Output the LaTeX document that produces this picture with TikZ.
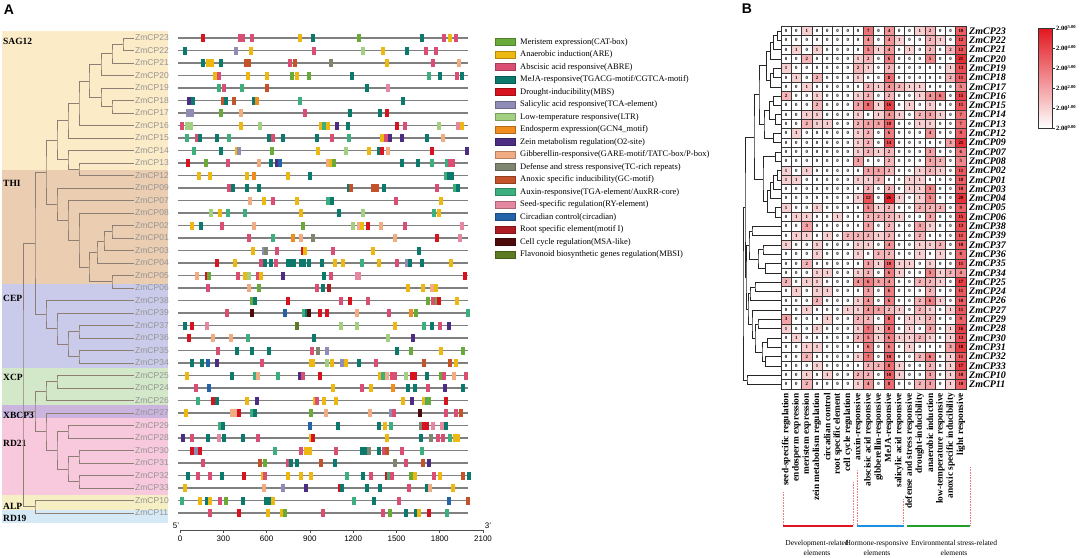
\documentclass[tikz,border=0pt]{standalone}
\usepackage{fontspec}
\setmainfont{Liberation Serif}
\setsansfont{Liberation Sans}
\usetikzlibrary{calc}

% motif colours
\definecolor{cat}{HTML}{6AAA3A}
\definecolor{are}{HTML}{EDB812}
\definecolor{abre}{HTML}{D94E72}
\definecolor{meja}{HTML}{0B7A6C}
\definecolor{mbs}{HTML}{D6131E}
\definecolor{tca}{HTML}{8F8DB5}
\definecolor{ltr}{HTML}{A3D080}
\definecolor{gcn}{HTML}{EF8E1F}
\definecolor{otwo}{HTML}{4B2E83}
\definecolor{gare}{HTML}{F2AC83}
\definecolor{tcr}{HTML}{7F8670}
\definecolor{gc}{HTML}{C4532B}
\definecolor{tga}{HTML}{3DAF7F}
\definecolor{ry}{HTML}{E487A0}
\definecolor{circ}{HTML}{2463A8}
\definecolor{moti}{HTML}{AE1C23}
\definecolor{msa}{HTML}{4E0B0B}
\definecolor{mbsi}{HTML}{5C7B22}
% bands, tree, heatmap
\definecolor{bSAG}{HTML}{FCEBC7}
\definecolor{bTHI}{HTML}{EBCDB2}
\definecolor{bCEP}{HTML}{CACBEA}
\definecolor{bXCP}{HTML}{D2E8C8}
\definecolor{bXBC}{HTML}{CBB5DE}
\definecolor{bRD}{HTML}{F8C8DD}
\definecolor{bALP}{HTML}{F6EFC3}
\definecolor{bRDn}{HTML}{D5E9F6}
\definecolor{treeA}{HTML}{8E7F74}
\definecolor{hot}{HTML}{E3161E}
\definecolor{barR}{HTML}{E0141E}
\definecolor{barB}{HTML}{1E8FE0}
\definecolor{barG}{HTML}{1FA02A}

\newcommand\genes{23,22,21,20,19,18,17,16,15,14,13,12,09,07,08,02,01,03,04,05,06,38,39,37,36,35,34,25,24,26,27,29,28,30,31,32,33,10,11}

% clade: name, x, child, child
\newcommand\clade[4]{%
  \path let \p1=($(#3)!.5!(#4)$) in coordinate (#1) at (#2pt,\y1);
  \draw[tree] (#3) -| (#1) |- (#4);
}

\begin{document}
\begin{tikzpicture}[x=1pt, y=-1pt, every node/.style={inner sep=1pt},
  glab/.style={anchor=west, font=\sffamily\fontsize{8.5}{9}\selectfont, text=black!42},
  band/.style={anchor=west, font=\bfseries\fontsize{9.5}{10}\selectfont},
  tree/.style={draw=treeA, line width=.8pt},
  track/.style={draw=black!50, line width=1.1pt},
  leg/.style={anchor=west, font=\fontsize{8.5}{9}\selectfont},
  cell/.style={draw=black!80, line width=.6pt, minimum width=10.28pt, minimum height=9.3pt, inner sep=0pt, font=\bfseries\fontsize{4.8}{5}\selectfont},
  hlab/.style={anchor=west, font=\bfseries\itshape\fontsize{10}{10}\selectfont},
  clab/.style={rotate=90, anchor=east, font=\bfseries\fontsize{9.3}{10}\selectfont},
  grp/.style={align=center, font=\fontsize{7.5}{10.5}\selectfont}]
\useasboundingbox (0,0) rectangle (1084,557);

%% panel A
\node[font=\sffamily\bfseries\fontsize{14}{14}\selectfont] (pA) at (9,10) {A};

\fill[bSAG] (2,31) rectangle (168,170);
\fill[bTHI] (2,170) rectangle (168,284);
\fill[bCEP] (2,284) rectangle (168,368);
\fill[bXCP] (2,368) rectangle (168,405);
\fill[bXBC] (2,405) rectangle (168,418);
\fill[bRD] (2,418) rectangle (168,495);
\fill[bALP] (2,495) rectangle (168,510);
\fill[bRDn] (2,510) rectangle (168,523);

\node[band] (sag) at (2,41) {SAG12};
\node[band] (thi) at (2,183) {THI};
\node[band] (cep) at (2,298) {CEP};
\node[band] (xcp) at (2,377) {XCP};
\node[band] (xbc) at (2,415) {XBCP3};
\node[band] (rdt) at (2,443) {RD21};
\node[band] (alp) at (2,506) {ALP};
\node[band] (rdn) at (2,518) {RD19};

\foreach \gid [count=\row from 0] in \genes
  \node[glab] (a\gid) at (134,{38+12.5*\row}) {ZmCP\gid};

% tree
\clade{n2322}{123}{a23.west}{a22.west}
\clade{n21}{112}{n2322}{a21.west}
\clade{n20}{101}{n21}{a20.west}
\clade{n1817}{112}{a18.west}{a17.west}
\clade{n19}{101}{a19.west}{n1817}
\clade{n1920}{89}{n20}{n19}
\clade{n16}{79}{n1920}{a16.west}
\clade{n15}{68}{n16}{a15.west}
\clade{n1312}{79}{a13.west}{a12.west}
\clade{n14}{68}{a14.west}{n1312}
\clade{nsag}{57}{n15}{n14}
\clade{n0201}{112}{a02.west}{a01.west}
\clade{n03}{104}{n0201}{a03.west}
\clade{n04}{97}{n03}{a04.west}
\clade{n0506}{112}{a05.west}{a06.west}
\clade{n0406}{89}{n04}{n0506}
\clade{n08}{79}{a08.west}{n0406}
\clade{n07}{68}{a07.west}{n08}
\clade{n09}{57}{a09.west}{n07}
\clade{nst}{46}{nsag}{n09}
\clade{n3736}{79}{a37.west}{a36.west}
\clade{n3534}{79}{a35.west}{a34.west}
\clade{n3734}{68}{n3736}{n3534}
\clade{n39}{57}{a39.west}{n3734}
\clade{n38}{46}{a38.west}{n39}
\clade{nup}{35}{nst}{n38}
\clade{n2524}{57}{a25.west}{a24.west}
\clade{n26}{46}{n2524}{a26.west}
\clade{n2928}{68}{a29.west}{a28.west}
\clade{n3031}{79}{a30.west}{a31.west}
\clade{n3233}{79}{a32.west}{a33.west}
\clade{n3033}{68}{n3031}{n3233}
\clade{nrd}{57}{n2928}{n3033}
\clade{n27}{46}{a27.west}{nrd}
\clade{nlow}{35}{n26}{n27}
\clade{n1011}{35}{a10.west}{a11.west}
\clade{nroot}{23}{nup}{n1011}
\draw[tree] (nlow) -- (nlow -| nroot);

% promoter tracks
\begin{scope}[xshift=160pt, x=0.3333pt]
\foreach \row/\lst in {
 0/{130/mbs,240/abre,250/abre,275/abre,420/are,460/meja,597/cat,787/meja,852/abre,870/are,887/abre},
 1/{75/meja,227/tca,272/are,462/abre,608/ltr,668/are,740/meja,798/abre,827/abre},
 2/{130/meja,145/are,155/are,182/meja,258/gc,266/gc,390/abre,405/gc,512/tcr,682/are,818/abre,898/gare},
 3/{165/are,177/abre,265/are,320/are,395/cat,410/are,448/cat,575/meja,808/tga,840/meja,892/abre,905/meja},
 4/{178/tga,192/abre,245/tga,320/gc,620/meja,685/ry},
 5/{88/otwo,100/meja,190/gc,197/meja,223/gc,282/meja,292/gcn,420/tga,728/meja},
 6/{85/tca,95/tca,183/cat,243/gare,435/abre,570/meja,660/meja,680/mbs},
 7/{67/abre,82/ltr,93/ltr,243/are,300/ltr,482/are,493/tga,505/are,532/otwo,563/meja,710/mbs,735/abre,838/ltr,893/ry,907/are},
 8/{82/tga,112/abre,120/meja,172/meja,208/tga,328/meja,340/abre,370/meja,472/meja,517/abre,567/tga,667/are,677/abre,690/otwo,725/otwo,802/meja,850/gare},
 9/{102/tga,182/meja,230/are,238/tca,335/cat,473/are,558/ltr,628/are,658/meja,666/mbs,683/gare,815/mbs,920/otwo},
 10/{83/mbs,137/cat,205/abre,297/gare,333/meja,350/otwo,360/circ,505/gare,512/are,522/cat,725/meja,773/meja,815/tga,860/tga,870/abre,878/abre},
 11/{117/are,150/are,262/are,283/gcn,385/are,450/meja,858/tga,868/meja,876/meja},
 12/{207/abre,220/meja,262/meja,298/meja,567/meja,573/gc,640/gc,650/gc,672/meja,832/abre,885/tga,893/meja},
 13/{270/gare,312/are,338/abre,412/are,503/tga,517/meja,708/abre,843/are},
 14/{152/ltr,180/are,203/tga,255/tga,423/are,538/meja,608/ltr,823/tga,838/are},
 15/{97/are,122/meja,185/abre,282/gare,430/cat,580/ltr,597/gare,605/are,625/mbs,663/gare,735/abre,905/ry},
 16/{268/abre,340/tga,400/gcn,422/gare,460/tcr,705/gare,830/mbs,900/ry},
 17/{278/are,313/tca,318/tcr,352/abre,430/mbs,435/are,520/abre,638/are,777/meja},
 18/{172/mbs,225/are,302/abre,315/meja,332/meja,348/abre,385/meja,393/meja,401/meja,422/meja,432/meja,447/meja,485/meja,525/are,550/are,605/tga,657/are,712/abre,742/tca,750/meja,787/meja,873/are},
 19/{110/gare,140/mbs,148/cat,235/abre,255/are,268/ltr,293/abre,303/are,370/otwo,493/meja,512/abre,590/ry,598/ry,915/mbs},
 20/{143/abre,268/gare,298/cat,472/abre,490/meja,508/moti,745/are,788/are,815/gare,828/are},
 21/{275/cat,285/meja,385/mbs,543/abre,570/mbs,625/abre,805/cat,820/abre,830/cat,838/mbs,890/are},
 22/{200/abre,275/msa,375/circ,432/tga,440/meja,448/msa,480/mbs,502/mbs,590/gare,688/abre,752/gcn,767/cat,925/tga},
 23/{75/meja,97/mbs,142/ry,410/mbsi,542/ltr,590/ltr,705/are,793/tga,817/meja,840/abre,867/otwo},
 24/{88/mbs,160/gare,212/gare,265/tga,463/meja,685/ltr,760/otwo},
 25/{175/abre,230/meja,275/meja,328/meja,455/abre,475/tcr,502/tca,710/meja,752/cat,842/are,908/cat},
 26/{95/meja,125/meja,143/circ,170/otwo,305/abre,452/are,460/are,500/ltr,515/are,545/tca,558/are,597/meja,648/abre,793/gc,870/gc,887/are},
 27/{80/are,215/meja,285/tga,295/gare,355/tga,420/otwo,430/abre,480/mbs,660/are,670/tga,680/gare,695/abre,705/abre,737/ltr,755/mbs,765/mbs,800/meja,843/cat,852/abre,882/gare,918/abre},
 28/{108/abre,148/circ,520/are,607/abre,633/are,700/gcn,743/meja,765/meja,805/abre,855/otwo,910/meja},
 29/{113/tga,160/mbs,170/meja,262/are,290/otwo,465/are,470/abre,493/are,528/are,728/are,757/otwo,792/are,800/tga,808/cat,858/mbs},
 30/{78/are,215/gare,225/gare,237/mbs,277/tga,285/meja,453/cat,497/gare,630/gare,693/tca,702/abre,780/msa,858/abre,887/abre,903/gc},
 31/{180/tga,190/meja,450/circ,535/meja,657/meja,675/are,692/tga,783/tcr,792/mbs,802/mbs,820/ry,845/ry,857/meja},
 32/{70/otwo,95/abre,145/meja,177/ry,193/meja,250/meja,295/abre,453/are,460/mbs,682/are,783/meja,812/tcr,833/abre,850/abre,870/tga,885/are,893/are},
 33/{97/mbs,108/tca,120/mbs,345/tga,422/abre,437/are,450/are,527/abre,605/meja,615/meja,628/tcr,657/meja,673/abre,680/gc,727/abre,785/tga},
 34/{128/abre,300/gc,315/cat,385/abre,393/meja,410/meja,483/gc,525/meja,705/tcr,737/abre,790/gc,808/otwo},
 35/{85/meja,115/abre,150/abre,187/meja,252/mbs,308/are,315/abre,385/are,423/are,453/are,562/tga,610/meja,632/abre,680/mbs,688/tga,695/abre,752/cat,765/are,822/abre,840/are,910/gc,928/meja},
 36/{75/are,313/gare,370/tca,437/otwo,540/mbs,545/meja,622/meja,660/meja,747/abre,800/meja,810/gare,878/are},
 37/{67/tga,120/are,140/meja,150/are,180/abre,197/cat,248/meja,318/meja,328/meja,340/are,582/tga,642/meja,718/abre,867/circ,925/gc},
 38/{150/abre,238/mbs,325/are,367/are,375/cat,490/abre,668/abre,690/cat,737/meja,767/meja,778/are,808/mbs,862/tga}}
{
  \draw[track] (54,{38+12.5*\row}) -- (924,{38+12.5*\row});
  \foreach \pos/\col in \lst
    \fill[\col] ({\pos-6},{34+12.5*\row}) rectangle ({\pos+6},{42+12.5*\row});
}
\end{scope}

% scale bar
\draw[black!70, line width=.6pt] (180,530) -- (483,530);
\foreach \bp [count=\idx from 0] in {0,300,600,900,1200,1500,1800,2100} {
  \draw[black!70, line width=.6pt] ({180+43.29*\idx},530) -- ({180+43.29*\idx},533);
  \node[font=\sffamily\fontsize{8}{8}\selectfont] (t\idx) at ({180+43.29*\idx},539) {\bp};
}
\node[font=\sffamily\fontsize{8}{8}\selectfont] (five) at (176,526) {5'};
\node[font=\sffamily\fontsize{8}{8}\selectfont] (three) at (488,526) {3'};

% legend
\foreach \col/\txt [count=\idx from 0] in {
  cat/{Meristem expression(CAT-box)},
  are/{Anaerobic induction(ARE)},
  abre/{Abscisic acid responsive(ABRE)},
  meja/{MeJA-responsive(TGACG-motif/CGTCA-motif)},
  mbs/{Drought-inducibility(MBS)},
  tca/{Salicylic acid responsive(TCA-element)},
  ltr/{Low-temperature responsive(LTR)},
  gcn/{Endosperm expression(GCN4\_motif)},
  otwo/{Zein metabolism regulation(O2-site)},
  gare/{Gibberellin-responsive(GARE-motif/TATC-box/P-box)},
  tcr/{Defense and stress responsive(TC-rich repeats)},
  gc/{Anoxic specific inducibility(GC-motif)},
  tga/{Auxin-responsive(TGA-element/AuxRR-core)},
  ry/{Seed-specific regulation(RY-element)},
  circ/{Circadian control(circadian)},
  moti/{Root specific element(motif I)},
  msa/{Cell cycle regulation(MSA-like)},
  mbsi/{Flavonoid biosynthetic genes regulation(MBSI)}} {
  \filldraw[fill=\col, draw=\col!75!black, line width=.3pt] (495,{38.5+12.5*\idx}) rectangle (515,{45.5+12.5*\idx});
  \node[leg] (l\idx) at (519,{42+12.5*\idx}) {\txt};
}

%% panel B
\node[font=\sffamily\bfseries\fontsize{14}{14}\selectfont] (pB) at (747,9) {B};

\foreach \gid/\vals [count=\row from 0] in {
 23/{0,0,1,0,0,0,0,0,7,0,4,0,0,1,2,0,0,10},
 22/{0,0,0,0,0,0,0,0,4,0,4,1,0,0,2,1,0,12},
 21/{0,1,0,1,0,0,0,0,5,1,4,0,1,0,2,0,2,12},
 20/{0,0,2,0,0,0,0,1,2,0,6,0,0,0,5,0,0,21},
 19/{1,0,0,0,0,0,0,2,1,0,2,0,0,0,0,0,1,13},
 18/{0,1,0,2,0,0,0,1,0,0,8,0,0,0,0,0,2,11},
 17/{0,0,1,0,0,0,0,0,2,1,4,2,1,1,0,0,0,5},
 16/{2,0,0,1,0,0,0,1,2,0,2,0,0,1,4,6,0,15},
 15/{0,0,0,2,0,0,0,3,8,1,16,0,1,0,1,0,0,11},
 14/{0,0,1,1,0,0,0,1,0,1,4,1,0,2,3,1,0,7},
 13/{0,0,2,1,1,0,0,2,3,3,10,0,0,1,1,0,0,7},
 12/{0,1,0,0,0,0,0,1,2,0,6,0,0,0,4,0,0,9},
 09/{0,0,0,0,0,0,0,1,2,0,14,0,0,0,0,0,3,21},
 07/{0,0,0,0,0,0,0,1,2,1,2,0,0,0,3,0,0,6},
 08/{0,0,0,0,0,0,0,3,0,0,2,0,0,0,3,2,0,5},
 02/{1,0,1,0,0,0,0,0,3,3,2,0,0,1,2,1,0,11},
 01/{1,1,0,0,0,0,0,1,1,2,0,0,1,1,0,0,0,10},
 03/{0,0,0,0,0,0,0,0,2,0,2,0,1,1,5,0,0,10},
 04/{0,0,0,0,0,0,0,1,12,0,26,1,0,1,5,0,0,20},
 05/{1,0,0,1,0,0,0,0,5,1,2,0,0,2,2,2,0,9},
 06/{0,1,1,0,0,1,0,0,2,2,2,1,0,0,3,0,0,15},
 38/{0,0,3,0,0,0,0,0,3,0,2,0,0,3,1,0,0,13},
 39/{0,1,1,0,1,0,2,2,2,1,2,0,0,2,0,0,0,11},
 37/{1,0,0,1,0,0,0,1,1,0,4,0,0,1,1,2,0,10},
 36/{0,0,0,1,0,0,0,1,0,2,2,0,0,1,0,1,0,8},
 35/{0,0,2,0,0,0,0,0,3,1,10,1,1,0,1,0,0,11},
 34/{0,0,0,1,1,0,0,1,2,0,6,1,0,0,5,1,2,4},
 25/{2,0,1,1,0,0,0,4,6,3,4,0,0,2,2,1,0,17},
 24/{0,1,0,1,1,0,0,0,3,0,6,0,0,0,2,0,0,11},
 26/{0,0,0,2,0,0,0,1,4,0,6,0,0,2,6,1,0,10},
 27/{0,0,1,0,0,0,1,1,4,3,2,1,0,2,1,0,1,11},
 29/{3,0,0,0,1,0,0,2,2,0,8,0,1,1,2,0,0,9},
 28/{1,0,0,1,0,0,0,1,7,1,8,0,1,0,3,0,1,16},
 30/{0,1,0,0,0,0,0,2,5,1,6,1,1,2,1,0,1,13},
 31/{0,0,1,1,0,0,0,0,6,0,6,0,1,0,0,0,3,18},
 32/{0,0,2,0,0,0,0,1,7,0,10,0,0,2,6,0,1,11},
 33/{0,0,0,1,0,0,0,0,2,2,8,1,0,0,2,0,1,17},
 10/{0,0,1,0,1,0,0,2,2,0,10,1,0,0,3,0,1,10},
 11/{0,0,2,0,0,0,0,1,4,0,8,0,0,2,3,0,1,10}} {
  \node[hlab] (b\gid) at (968,{31+9.3*\row}) {ZmCP\gid};
  \coordinate (h\gid) at (781,{31+9.3*\row});
  \foreach \val [count=\col from 0] in \vals {
    \pgfmathsetmacro\pc{min(100,20*ln(\val+1)/ln(2))}
    \node[cell, fill=hot!\pc!white] (c\gid-\col) at ({786.14+10.28*\col},{31+9.3*\row}) {\val};
  }
}

% dendrogram of the heat map
\begin{scope}[tree/.style={draw=black!85, line width=.5pt}]
\clade{m2322}{777}{h23}{h22}
\clade{m21}{773}{m2322}{h21}
\clade{m20}{770}{m21}{h20}
\clade{m1918}{773}{h19}{h18}
\clade{m17}{770}{m1918}{h17}
\clade{mA}{766}{m20}{m17}
\clade{m1615}{773}{h16}{h15}
\clade{m1413}{775}{h14}{h13}
\clade{mB}{769}{m1615}{m1413}
\clade{m1209}{773}{h12}{h09}
\clade{mC}{764}{mB}{m1209}
\clade{mI}{759}{mA}{mC}
\clade{m0708}{775}{h07}{h08}
\clade{m0201}{777}{h02}{h01}
\clade{m03}{773}{m0201}{h03}
\clade{m04}{770}{m03}{h04}
\clade{m0506}{775}{h05}{h06}
\clade{mD}{767}{m04}{m0506}
\clade{mII}{763}{m0708}{mD}
\clade{mItwo}{754}{mI}{mII}
\clade{m3839}{752}{h38}{h39}
\clade{m3736}{763}{h37}{h36}
\clade{m3534}{765}{h35}{h34}
\clade{mE}{758}{m3736}{m3534}
\clade{mIII}{749}{m3839}{mE}
\clade{m2524}{755}{h25}{h24}
\clade{mIV}{750}{m2524}{h26}
\clade{m2928}{758}{h29}{h28}
\clade{m3031}{767}{h30}{h31}
\clade{m3233}{765}{h32}{h33}
\clade{mF}{762}{m3031}{m3233}
\clade{mG}{755}{m2928}{mF}
\clade{mV}{752}{h27}{mG}
\clade{mIVV}{748}{mIV}{mV}
\clade{mIIIV}{746}{mIII}{mIVV}
\clade{m1011}{747}{h10}{h11}
\clade{mtop}{745}{mItwo}{mIIIV}
\clade{mroot}{743}{mtop}{m1011}
\end{scope}

% colour key
\shade[top color=hot, bottom color=white] (1038,28) rectangle (1052,128);
\draw[black!80, line width=.5pt] (1038,28) rectangle (1052,128);
\foreach \tk [count=\idx from 0] in {5.00,4.00,3.00,2.00,1.00,0.00} {
  \draw[black!80, line width=.5pt] (1052,{28+20*\idx}) -- (1055,{28+20*\idx});
  \node[anchor=west, font=\bfseries\fontsize{6.5}{7}\selectfont] (k\idx) at (1055,{28+20*\idx}) {2.00\textsuperscript{\tk}};
}

% element names
\foreach \txt [count=\col from 0] in {seed-specific regulation, endosperm expression,
  meristem expression, zein metabolism regulation, circadian control, root specific element,
  cell cycle regulation, auxin-responsive, abscisic acid responsive, gibberellin-responsive,
  MeJA-responsive, salicylic acid responsive, defense and stress responsive,
  drought-inducibility, anaerobic induction, low-temperature responsive,
  anoxic specific inducibility, light responsive}
  \node[clab] (x\col) at ({786.14+10.28*\col},392) {\txt};

% groups
\draw[densely dotted, barR!55, line width=.6pt] (783,492) -- (783,525);
\draw[densely dotted, barR!55, line width=.6pt] (853,482) -- (853,525);
\draw[densely dotted, barR!55, line width=.6pt] (857,470) -- (857,525);
\draw[densely dotted, barR!55, line width=.6pt] (903,499) -- (903,525);
\draw[densely dotted, barR!55, line width=.6pt] (970,467) -- (970,525);
\draw[barR, line width=2pt] (783,526) -- (853,526);
\draw[barB, line width=2pt] (857,526) -- (904,526);
\draw[barG, line width=2pt] (907,526) -- (970,526);
\node[grp] (g1) at (817,548) {Development-related\\elements};
\node[grp] (g2) at (877,548) {Hormone-responsive\\elements};
\node[grp] (g3) at (954,548) {Environmental stress-related\\elements};
\end{tikzpicture}
\end{document}
